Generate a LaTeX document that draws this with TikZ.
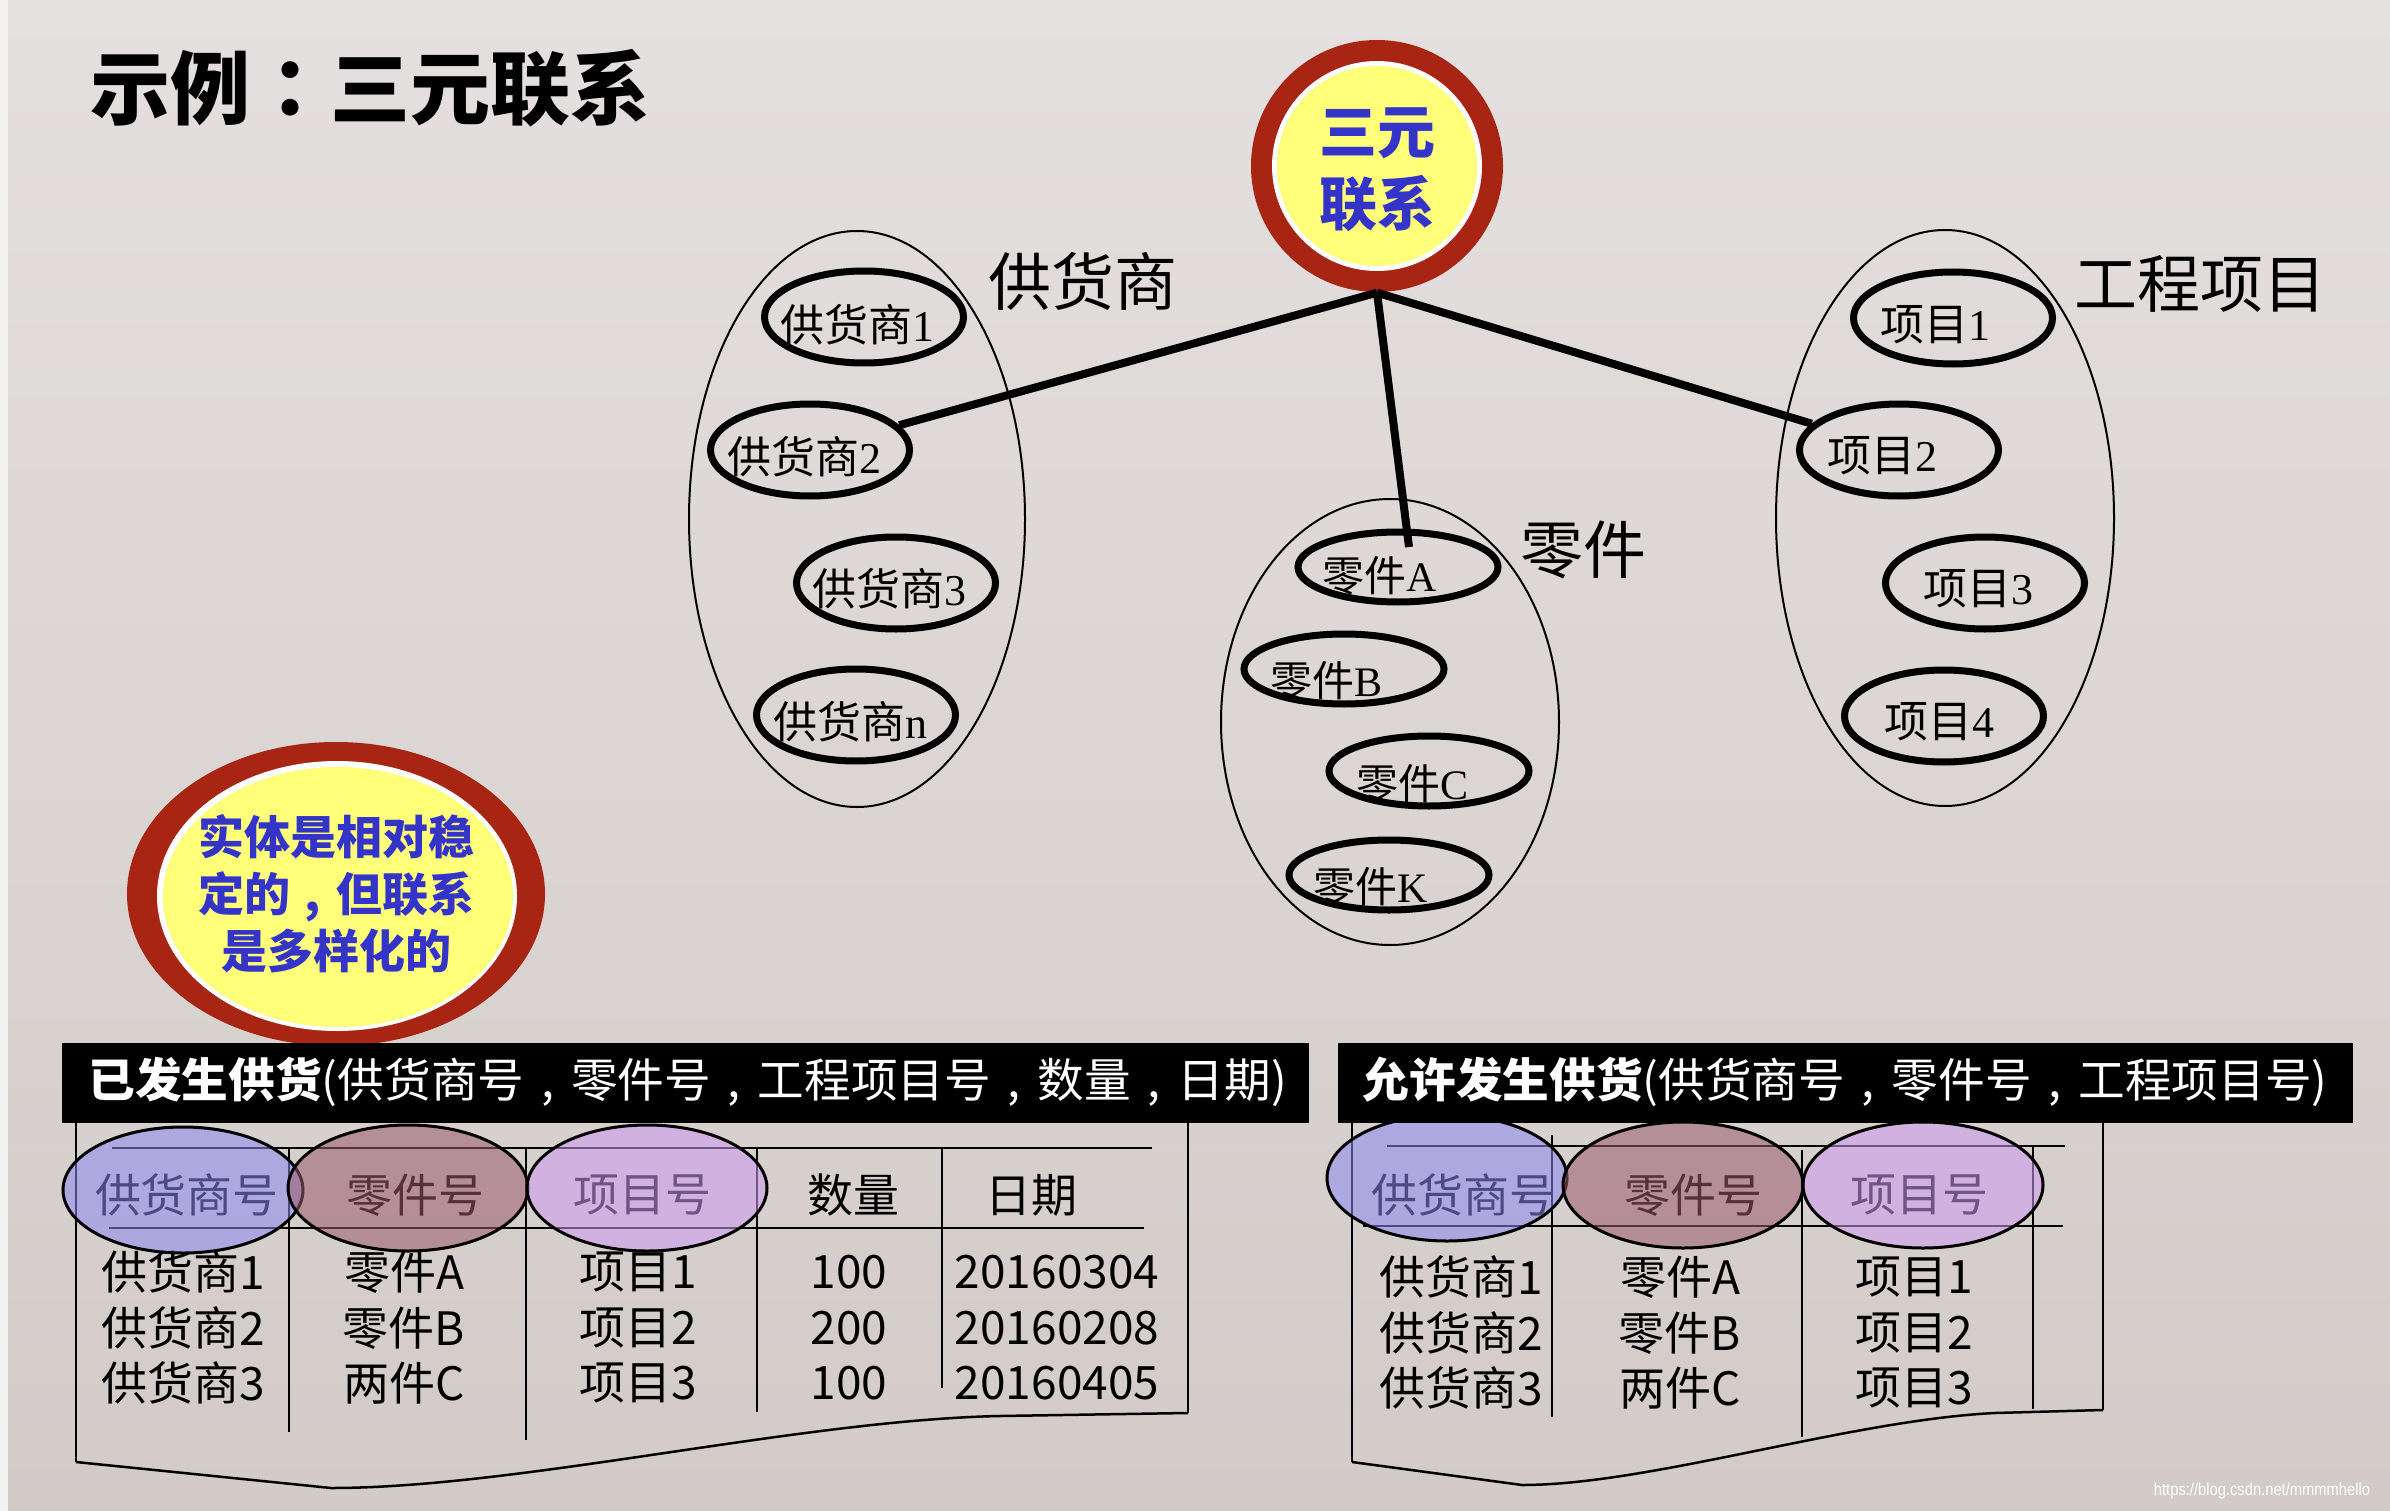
\documentclass[tikz,border=0pt]{standalone}
\usepackage{fontspec}
\setmainfont{Liberation Serif}
\newfontfamily\cjk{Noto Sans CJK SC}
\newfontfamily\cjktc{Noto Sans CJK TC}
\newfontfamily\wmfont{Liberation Sans}
\usetikzlibrary{shapes.geometric,calc}
\newcommand\pu{0.3pt}
\newcommand\cmm{\makebox[1em][c]{,}}
\newcommand\cln{{\cjktc ：}}
\definecolor{bgtop}{HTML}{E4E0DF}
\definecolor{bgbot}{HTML}{D2CBC8}
\definecolor{stripc}{HTML}{F3F1F0}
\definecolor{ringred}{HTML}{A82514}
\definecolor{relyellow}{HTML}{FFFF7A}
\definecolor{relblue}{HTML}{3434C8}
\definecolor{hblue}{HTML}{8C88F0}
\definecolor{hmauve}{HTML}{9A5A6C}
\definecolor{hpurple}{HTML}{CC99F0}
\tikzset{
  grp/.style={ellipse, draw, line width=2*\pu, inner sep=0},
  ent/.style={ellipse, draw, line width=7*\pu, inner sep=0, minimum width=199*\pu, minimum height=92*\pu},
  entp/.style={ent, minimum width=200*\pu, minimum height=70*\pu},
  elbl/.style={inner sep=0, font=\fontsize{13.2}{15}\selectfont},
  elblp/.style={inner sep=0, font=\fontsize{12.6}{15}\selectfont},
  grplbl/.style={inner sep=0, font=\cjk\fontsize{18.9}{22}\selectfont},
  conn/.style={line width=8*\pu},
  tline/.style={line width=2.5*\pu},
  hell/.style={ellipse, draw, line width=3*\pu, fill opacity=0.55, inner sep=0, minimum width=240*\pu, minimum height=126*\pu},
  ttxt/.style={inner sep=0, font=\cjk\fontsize{13.8}{16}\selectfont},
  barbox/.style={fill=black, inner sep=0, minimum height=80*\pu, anchor=north west},
  bartxt/.style={text=white, inner sep=0, anchor=west, font=\cjk\fontsize{14}{16}\selectfont},
  bluetxt/.style={text=relblue, inner sep=0, align=center}
}
\newcommand\zh[1]{{\cjk #1}}
\begin{document}
\begin{tikzpicture}[x=0.3pt, y=-0.3pt]
\useasboundingbox (0,0) rectangle (2390,1511);
% background
\shade[top color=bgtop, bottom color=bgbot] (0,0) rectangle (2390,1511);
\fill[stripc] (0,0) rectangle (8,1511);

% title
\node[anchor=west, inner sep=0, font=\cjk\bfseries\fontsize{24}{28}\selectfont] (title) at (90,88) {示例{\bfseries\cln}三元联系};

% relationship circle
\node[circle, fill=ringred, minimum size=252*\pu, inner sep=0] (rel) at (1377,166) {};
\fill[white] (rel.center) circle[radius=105];
\fill[relyellow] (rel.center) circle[radius=100];
\node[bluetxt, font=\cjk\bfseries\fontsize{17.4}{21.6}\selectfont] (reltxt) at (1377,170) {三元\\联系};

% supplier group
\node[grp, minimum width=336*\pu, minimum height=576*\pu] (gS) at (857,519) {};
\node[grplbl] (gSl) at (1083,281) {供货商};
\node[ent] (s1) at (864,317) {};
\node[ent] (s2) at (810,450) {};
\node[ent] (s3) at (896,583) {};
\node[ent] (sn) at (856,715) {};
\node[elbl] (s1t) at (857,325) {\zh{供货商}1};
\node[elbl] (s2t) at (804,457) {\zh{供货商}2};
\node[elbl] (s3t) at (889,589) {\zh{供货商}3};
\node[elbl] (snt) at (850,722) {\zh{供货商}n};

% parts group
\node[grp, minimum width=338*\pu, minimum height=446*\pu] (gP) at (1390,722) {};
\node[grplbl] (gPl) at (1583,550) {零件};
\node[entp] (pA) at (1398,567) {};
\node[entp] (pB) at (1344,669) {};
\node[entp] (pC) at (1429,771) {};
\node[entp] (pK) at (1389,875) {};
\node[elblp] (pAt) at (1380,576) {\zh{零件}A};
\node[elblp] (pBt) at (1326,681) {\zh{零件}B};
\node[elblp] (pCt) at (1412,784) {\zh{零件}C};
\node[elblp] (pKt) at (1371,887) {\zh{零件}K};
\coordinate (pAin) at (1409,547);

% project group
\node[grp, minimum width=338*\pu, minimum height=576*\pu] (gJ) at (1945,518) {};
\node[grplbl] (gJl) at (2200,284) {工程项目};
\node[ent] (j1) at (1953,318) {};
\node[ent] (j2) at (1899,450) {};
\node[ent] (j3) at (1985,583) {};
\node[ent] (j4) at (1944,716) {};
\node[elbl] (j1t) at (1935,325) {\zh{项目}1};
\node[elbl] (j2t) at (1882,456) {\zh{项目}2};
\node[elbl] (j3t) at (1978,589) {\zh{项目}3};
\node[elbl] (j4t) at (1939,722) {\zh{项目}4};

% connectors
\draw[conn] (rel.south) -- (s2);
\draw[conn] (rel.south) -- (pAin);
\draw[conn] (rel.south) -- (j2);

% callout
\node[ellipse, fill=ringred, minimum width=418*\pu, minimum height=304*\pu, inner sep=0] (callout) at (336,894) {};
\fill[white] ($(callout.center)+(1,2)$) ellipse[x radius=180, y radius=135];
\fill[relyellow] ($(callout.center)+(2,3)$) ellipse[x radius=175, y radius=130];
\node[bluetxt, font=\cjk\bfseries\fontsize{13.8}{17.1}\selectfont] (callouttxt) at (336,894) {实体是相对稳\\定的\cmm 但联系\\是多样化的};

% ---------- table 1 ----------
\draw[tline] (76,1120) -- (76,1462);
\draw[tline] (1188,1120) -- (1188,1413);
\draw[tline] (76,1462) -- (331,1488) .. controls (520,1488) and (800,1420) .. (1000,1416) -- (1188,1413);
\draw[tline] (112,1148) -- (1152,1148);
\draw[tline] (109,1228) -- (1144,1228);
\draw[tline] (289,1148) -- (289,1432);
\draw[tline] (526,1148) -- (526,1440);
\draw[tline] (757,1148) -- (757,1412);
\draw[tline] (942,1148) -- (942,1388);
\node[ttxt] (t1h1) at (187,1195) {供货商号};
\node[ttxt] (t1h2) at (415,1195) {零件号};
\node[ttxt] (t1h3) at (642,1195) {项目号};
\node[ttxt] (t1h4) at (853,1195) {数量};
\node[ttxt] (t1h5) at (1031,1195) {日期};
\node[ttxt] (t1a1) at (183,1272) {供货商1};
\node[ttxt] (t1a2) at (404,1272) {零件A};
\node[ttxt] (t1a3) at (638,1272) {项目1};
\node[ttxt] (t1a4) at (849,1272) {100};
\node[ttxt] (t1a5) at (1057,1272) {20160304};
\node[ttxt] (t1b1) at (183,1328) {供货商2};
\node[ttxt] (t1b2) at (404,1328) {零件B};
\node[ttxt] (t1b3) at (638,1328) {项目2};
\node[ttxt] (t1b4) at (849,1328) {200};
\node[ttxt] (t1b5) at (1057,1328) {20160208};
\node[ttxt] (t1c1) at (183,1383) {供货商3};
\node[ttxt] (t1c2) at (404,1383) {两件C};
\node[ttxt] (t1c3) at (638,1383) {项目3};
\node[ttxt] (t1c4) at (849,1383) {100};
\node[ttxt] (t1c5) at (1057,1383) {20160405};
\node[hell, fill=hblue] (t1e1) at (183,1190) {};
\node[hell, fill=hmauve] (t1e2) at (408,1188) {};
\node[hell, fill=hpurple] (t1e3) at (647,1188) {};

% ---------- table 2 ----------
\draw[tline] (1352,1120) -- (1352,1462);
\draw[tline] (2103,1120) -- (2103,1410);
\draw[tline] (1352,1462) -- (1522,1485) .. controls (1650,1485) and (1850,1420) .. (1995,1413) -- (2103,1410);
\draw[tline] (1387,1146) -- (2065,1146);
\draw[tline] (1363,1226) -- (2063,1226);
\draw[tline] (1552,1135) -- (1552,1417);
\draw[tline] (1802,1150) -- (1802,1437);
\draw[tline] (2033,1146) -- (2033,1409);
\node[ttxt] (t2h1) at (1463,1195) {供货商号};
\node[ttxt] (t2h2) at (1693,1195) {零件号};
\node[ttxt] (t2h3) at (1919,1195) {项目号};
\node[ttxt] (t2a1) at (1461,1277) {供货商1};
\node[ttxt] (t2a2) at (1680,1277) {零件A};
\node[ttxt] (t2a3) at (1914,1277) {项目1};
\node[ttxt] (t2b1) at (1461,1333) {供货商2};
\node[ttxt] (t2b2) at (1680,1333) {零件B};
\node[ttxt] (t2b3) at (1914,1333) {项目2};
\node[ttxt] (t2c1) at (1461,1388) {供货商3};
\node[ttxt] (t2c2) at (1680,1388) {两件C};
\node[ttxt] (t2c3) at (1914,1388) {项目3};
\node[hell, fill=hblue] (t2e1) at (1447,1178) {};
\node[hell, fill=hmauve] (t2e2) at (1683,1185) {};
\node[hell, fill=hpurple] (t2e3) at (1923,1185) {};

% bars
\node[barbox, minimum width=1247*\pu] (bar1) at (61,1042) {};
\node[bartxt] (bar1t) at (88,1082) {{\bfseries 已发生供货}(供货商号\cmm 零件号\cmm 工程项目号\cmm 数量\cmm 日期)};
\node[barbox, minimum width=1015*\pu] (bar2) at (1337,1042) {};
\node[bartxt] (bar2t) at (1362,1082) {{\bfseries 允许发生供货}(供货商号\cmm 零件号\cmm 工程项目号)};

% watermark
\node[inner sep=0, text=white, xscale=0.85, font=\wmfont\fontsize{5.2}{6}\selectfont] (wm) at (2262,1491) {https://blog.csdn.net/mmmmhello};
\end{tikzpicture}
\end{document}
